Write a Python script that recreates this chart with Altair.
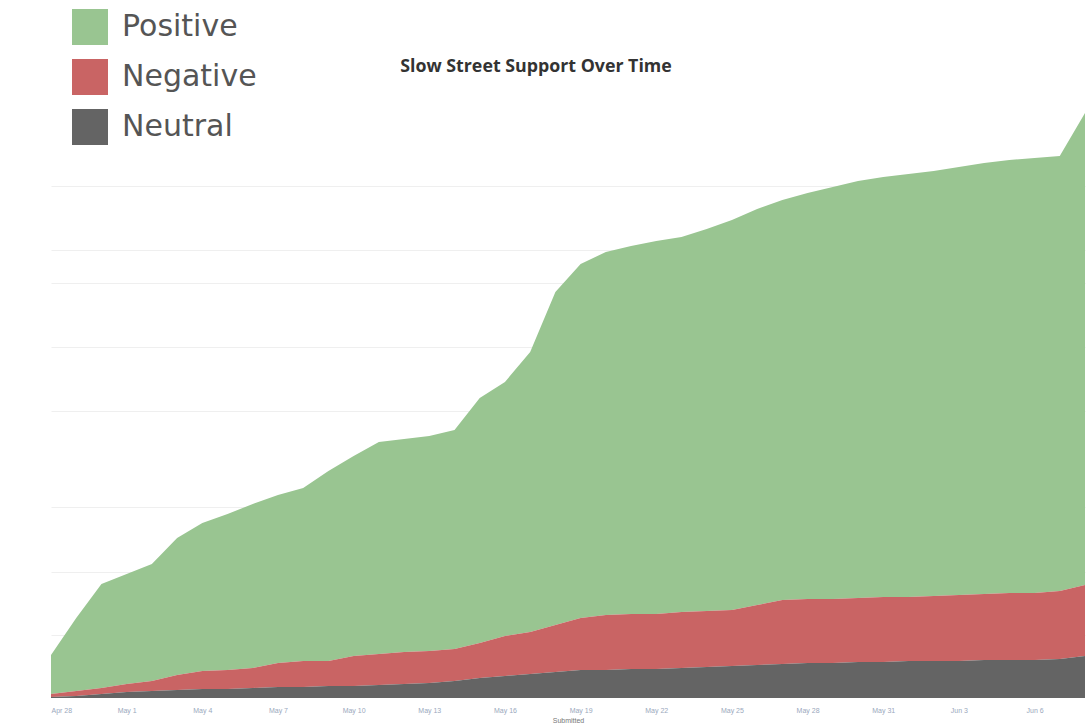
import altair as alt
import pandas as pd

# ---- data ----
dates = pd.date_range("2020-04-28", "2020-06-08", freq="D").strftime("%Y-%m-%d").tolist()

positive = [39, 73, 104, 110, 117, 137, 148, 156, 164, 168, 173, 190, 200, 212, 213,
            215, 219, 245, 254, 280, 333, 354, 363, 368, 373, 375, 382, 390, 396, 400,
            406, 412, 417, 420, 423, 425, 428, 431, 433, 435, 435, 472]
negative = [3, 5, 6, 8, 10, 15, 18, 19, 20, 24, 26, 25, 30, 31, 32,
            32, 32, 35, 40, 42, 47, 52, 55, 55, 55, 56, 56, 56, 60, 64,
            64, 64, 64, 65, 64, 65, 66, 66, 67, 67, 68, 71]
neutral = [1, 2, 4, 6, 7, 8, 9, 9, 10, 11, 11, 12, 12, 13, 14,
           15, 17, 20, 22, 24, 26, 28, 28, 29, 29, 30, 31, 32, 33, 34,
           35, 35, 36, 36, 37, 37, 37, 38, 38, 38, 39, 42]

categories = ["Positive", "Negative", "Neutral"]
colors = ["#99c591", "#c96464", "#646464"]
stack_rank = [2, 1, 0]

tick_dates = ["2020-04-28", "2020-05-01", "2020-05-04", "2020-05-07", "2020-05-10",
              "2020-05-13", "2020-05-16", "2020-05-19", "2020-05-22", "2020-05-25",
              "2020-05-28", "2020-05-31", "2020-06-03", "2020-06-06"]
grid_values = [63, 126, 191, 287, 351, 415, 448, 512]
title_text = "Slow Street Support Over Time"
x_title = "Submitted"


def dt(s):
    y, m, d = (int(p) for p in s.split("-"))
    return alt.DateTime(year=y, month=m, date=d, utc=True)


series = {"Positive": positive, "Negative": negative, "Neutral": neutral}
rows = []
for cat, rank in zip(categories, stack_rank):
    for d, v in zip(dates, series[cat]):
        rows.append({"date": d, "sentiment": cat, "count": v, "rank": rank})
df = pd.DataFrame(rows)

area = alt.Chart(df).mark_area(opacity=1, interpolate="linear").encode(
    x=alt.X(
        "date:T",
        scale=alt.Scale(type="utc", domain=[dt(dates[0]), dt(dates[-1])], nice=False, padding=0),
        axis=alt.Axis(
            values=[dt(t) for t in tick_dates],
            format="%b %-d",
            labelFontSize=7,
            labelColor="#9aa8bd",
            labelPadding=8,
            ticks=False,
            domain=False,
            grid=False,
            title=x_title,
            titleFontSize=7,
            titleFontWeight="normal",
            titleColor="#777777",
            titlePadding=3,
        ),
    ),
    y=alt.Y(
        "count:Q",
        stack="zero",
        scale=alt.Scale(domain=[0, 698], nice=False, zero=True),
        axis=alt.Axis(
            values=grid_values,
            labels=False,
            ticks=False,
            domain=False,
            title=None,
            gridColor="#efefef",
            gridWidth=1,
        ),
    ),
    color=alt.Color(
        "sentiment:N",
        scale=alt.Scale(domain=categories, range=colors),
        legend=alt.Legend(
            orient="none",
            legendX=21,
            legendY=9,
            title=None,
            symbolType="square",
            symbolSize=1296,
            symbolStrokeWidth=0,
            labelFontSize=30,
            labelFont="DejaVu Sans",
            labelColor="#555555",
            labelOffset=14,
            rowPadding=14,
            padding=0,
        ),
    ),
    order=alt.Order("rank:Q"),
)

title = alt.Chart(pd.DataFrame({"t": [title_text]})).mark_text(
    font="Open Sans", fontWeight="bold", fontSize=17.8, color="#333333",
    align="center", baseline="middle",
).encode(text="t:N", x=alt.value(485), y=alt.value(67))

chart = alt.layer(area, title).properties(
    width=1034,
    height=698,
    autosize="none",
    padding={"left": 51, "top": 0, "right": 2, "bottom": 26},
    background="white",
).configure_view(stroke=None, strokeWidth=0)

chart.save("out.html", embed_options={"renderer": "svg", "actions": False})
